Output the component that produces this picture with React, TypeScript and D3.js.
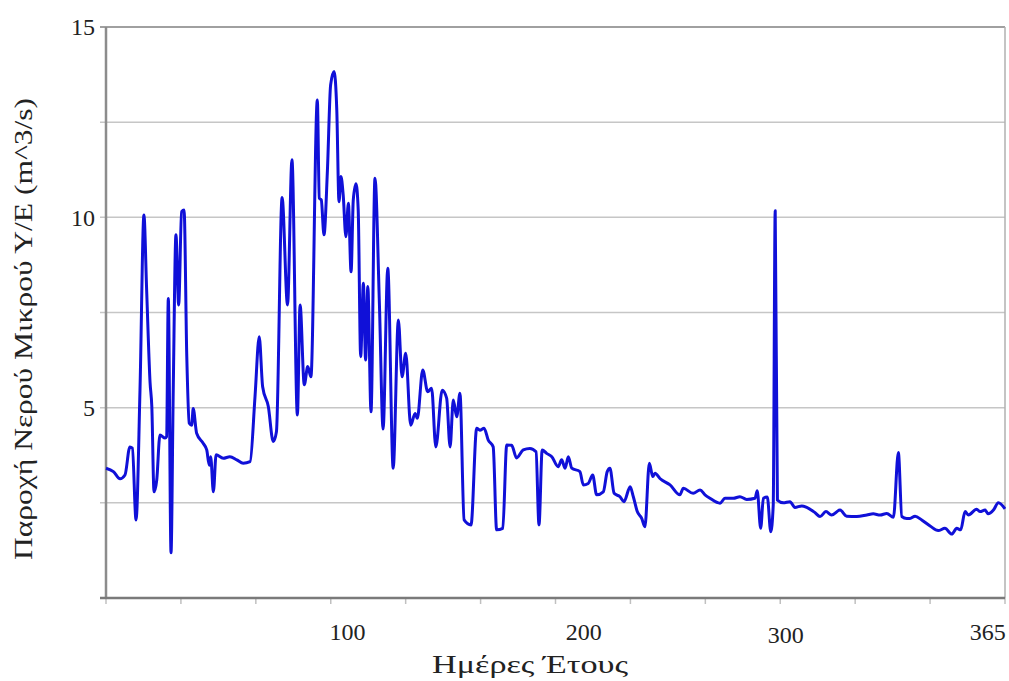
import * as d3 from 'd3';
import React from 'react';

// day of year / flow (m^3/s)
const days = [
  0, 3, 5.7, 7.7, 9.7, 10.7, 12.2, 13.8, 15.4, 16.5, 17.9, 18.6, 19.5, 20.6, 21.9, 24.0, 24.6, 25.3, 26.4, 27.3,
  28.4, 29.5, 30.7, 31.7, 32.8, 33.8, 34.8, 35.4, 36.8, 39.5, 40.9, 41.9, 42.5, 43.6, 44.7, 47.6, 50.3, 53.1, 55.7, 58.5,
  60.5, 62.2, 63.6, 65.9, 67.9, 69.2, 71.5, 73.7, 75.5, 77.7, 78.8, 80.5, 81.9, 83.2, 85.8, 86.6, 87.4, 88.5, 89.9, 91.2,
  92.6, 93.7, 94.6, 95.4, 96.3, 97.4, 98.4, 99.5, 100.4, 101.5, 102.4, 103.4, 104.5, 105.4, 106.3, 107.6, 109.2, 111.0, 112.5, 114.4,
  116.6, 118.7, 120.2, 121.7, 123.7, 125.5, 126.4, 128.6, 130.6, 132.2, 133.9, 136.5, 138.3, 139.7, 141.0, 142.4, 143.7, 145.4, 148.2, 150.5,
  151.8, 153.5, 155.2, 157.2, 158.6, 161.1, 162.7, 164.7, 166.7, 169.4, 172.1, 174.6, 175.8, 177.1, 178.9, 181.0, 183.6, 185.0, 186.4, 187.7,
  189.1, 192.4, 193.8, 195.8, 197.6, 199.2, 201.9, 203.5, 204.6, 206.3, 208.7, 210.3, 212.8, 214.1, 215.7, 217.5, 218.8, 220.6, 222.0, 222.9,
  224.9, 229.0, 233.0, 234.4, 238.4, 241.2, 243.2, 245.2, 249.3, 251.3, 254.7, 257.4, 260.1, 263.5, 264.4, 265.8, 266.9, 268.5, 269.9, 270.9,
  271.7, 272.6, 275.0, 277.7, 279.7, 282.5, 284.5, 287.9, 289.9, 292.3, 294.6, 298.0, 300.7, 304.8, 308.9, 311.5, 314.3, 317.0, 319.7, 321.7,
  323.1, 325.1, 326.4, 328.5, 331.2, 334.6, 337.9, 340.6, 343.4, 345.4, 347.0, 348.8, 350.1, 353.5, 354.9, 356.9, 358.2, 360.3, 362.3, 365,
];
const flow = [
  3.41, 3.32, 3.13, 3.23, 3.97, 3.94, 2.05, 5.46, 10.06, 8.09, 5.65, 5.03, 2.79, 3.10, 4.28, 4.20, 4.24, 7.87, 1.19, 5.46,
  9.54, 7.70, 10.15, 10.19, 6.34, 4.59, 4.54, 4.98, 4.33, 4.06, 3.89, 3.49, 3.71, 2.79, 3.76, 3.67, 3.71, 3.63, 3.54, 3.58,
  5.29, 6.86, 5.55, 5.03, 4.11, 4.37, 10.52, 7.70, 11.51, 4.81, 7.70, 5.60, 6.08, 5.81, 13.08, 10.50, 10.46, 9.54, 11.24, 13.48,
  13.83, 12.82, 10.41, 11.07, 10.59, 9.49, 10.37, 8.57, 10.46, 10.88, 10.19, 6.34, 8.27, 6.25, 8.18, 4.89, 11.03, 7.74, 4.44, 8.66,
  3.41, 7.30, 5.81, 6.43, 4.54, 4.85, 4.72, 5.99, 5.42, 5.51, 3.97, 5.46, 5.25, 3.97, 5.20, 4.76, 5.38, 2.05, 1.92, 4.46,
  4.41, 4.46, 4.15, 3.97, 1.79, 1.83, 4.02, 4.01, 3.68, 3.89, 3.93, 3.84, 1.92, 3.89, 3.80, 3.71, 3.45, 3.63, 3.41, 3.71,
  3.41, 3.32, 2.97, 3.01, 3.23, 2.71, 2.79, 3.32, 3.41, 2.75, 2.66, 2.53, 2.92, 2.66, 2.27, 2.09, 1.87, 3.54, 3.19, 3.28,
  3.14, 2.97, 2.71, 2.88, 2.75, 2.84, 2.71, 2.62, 2.49, 2.62, 2.62, 2.66, 2.59, 2.62, 2.82, 1.83, 2.62, 2.65, 1.74, 2.44,
  10.17, 2.57, 2.50, 2.53, 2.38, 2.42, 2.38, 2.24, 2.14, 2.27, 2.18, 2.31, 2.15, 2.14, 2.18, 2.21, 2.18, 2.22, 2.12, 3.82,
  2.14, 2.09, 2.09, 2.15, 2.05, 1.89, 1.77, 1.83, 1.68, 1.83, 1.79, 2.27, 2.18, 2.33, 2.27, 2.31, 2.21, 2.31, 2.50, 2.34,
];

const yTickValues = [5, 10, 15];
const gridValues = [2.5, 5, 7.5, 10, 12.5];
const xLabels = ['100', '200', '300', '365'];
const xLabelDays = [98, 194, 276, 358]; // where the labels sit in the original
const monthTicks = d3.range(0, 13).map(m => (m * 365) / 12);

const font = '"Liberation Serif", "Times New Roman", serif';

export default function App() {
  const width = 1009;
  const height = 681;
  const left = 106, right = 1005, top = 27, bottom = 598;

  const x = d3.scaleLinear().domain([0, 365]).range([left, right]);
  const y = d3.scaleLinear().domain([0, 15]).range([bottom, top]);

  const pts = days.map((d, i) => [d, flow[i]] as [number, number]);
  const line = d3.line<[number, number]>()
    .x(d => x(d[0]))
    .y(d => y(d[1]))
    .curve(d3.curveMonotoneX);

  return (
    <svg width={width} height={height} style={{ position: 'absolute', left: 0, top: 0, background: '#fff' }}>
      <rect width={width} height={height} fill="#fff" />
      {/* horizontal grid */}
      {gridValues.map(v => (
        <line key={v} x1={left - 6} x2={right} y1={y(v)} y2={y(v)} stroke="#c6c6c6" strokeWidth={1.5} />
      ))}
      {/* top border */}
      <line x1={left - 6} x2={right} y1={y(15)} y2={y(15)} stroke="#a0a0a0" strokeWidth={2} />
      {/* right border */}
      <line x1={right} x2={right} y1={top} y2={bottom} stroke="#b0b0b0" strokeWidth={1.5} />
      {/* month ticks */}
      {monthTicks.map((t, i) => (
        <line key={i} x1={x(t)} x2={x(t)} y1={bottom} y2={bottom + 6} stroke="#c0c0c0" strokeWidth={1.5} />
      ))}
      {/* axes */}
      <line x1={left} x2={left} y1={top} y2={bottom + 1} stroke="#8c8c8c" strokeWidth={2.5} />
      <line x1={left - 6} x2={right} y1={bottom} y2={bottom} stroke="#7a7a7a" strokeWidth={2.5} />

      <path d={line(pts) || ''} fill="none" stroke="#1010d8" strokeWidth={3} strokeLinejoin="round" />

      {yTickValues.map(v => (
        <text key={v} x={95} y={y(v)} dy="0.35em" textAnchor="end" fontFamily={font} fontSize={24} fill="#222">
          {v}
        </text>
      ))}
      {xLabels.map((lab, i) => (
        <text key={lab} x={x(xLabelDays[i])} y={i === 2 ? 643 : 640} textAnchor="middle" fontFamily={font} fontSize={24} fill="#222">
          {lab}
        </text>
      ))}
      <text x={530} y={673} textAnchor="middle" fontFamily={font} fontSize={25} fill="#222"
        textLength={196} lengthAdjust="spacingAndGlyphs">
        Ημέρες Έτους
      </text>
      <text transform="translate(32,329) rotate(-90)" textAnchor="middle" fontFamily={font} fontSize={25} fill="#222"
        textLength={462} lengthAdjust="spacingAndGlyphs">
        Παροχή Νερού Μικρού Υ/Ε (m^3/s)
      </text>
    </svg>
  );
}
